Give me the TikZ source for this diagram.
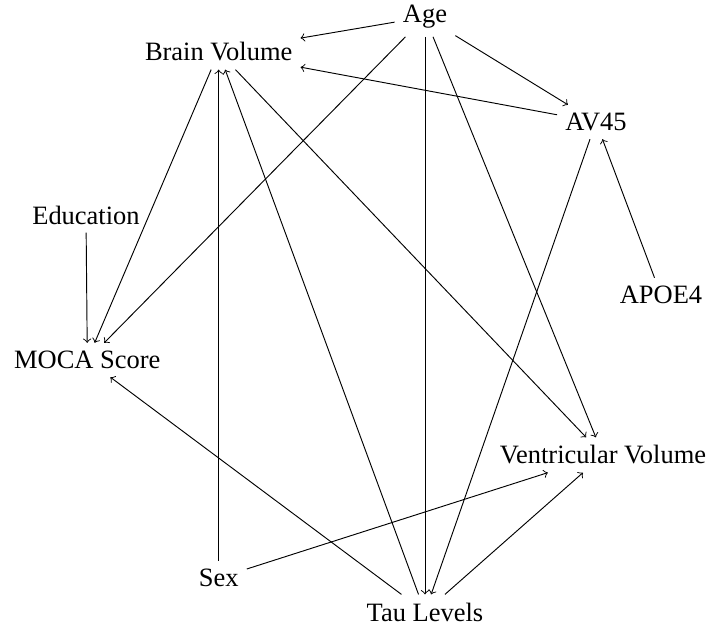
\documentclass[tikz,border=0pt]{standalone}
\usepackage{fontspec}
\setmainfont{Liberation Serif}
\usepackage{tikz}
\usetikzlibrary{arrows,shapes}
\usetikzlibrary{positioning}
\tikzstyle{varnode}=[anchor=center, text centered, font=\fontsize{11.3}{13}\selectfont]
\tikzstyle{myarrow}=[->, thin]

\begin{document}
\begin{tikzpicture}
		\useasboundingbox (0,0) rectangle (10.755,9.465) ;

		\node[varnode] (A) at (6.375,9.21) {Age} ;
		\node[varnode] (B) at (3.28,8.685) {Brain Volume} ;
		\node[varnode] (C) at (8.94,7.635) {AV45} ;
		\node[varnode] (D) at (1.29,6.24) {Education} ;
		\node[varnode] (E) at (9.915,5.04) {APOE4} ;
		\node[varnode] (F) at (1.31,4.065) {MOCA Score} ;
		\node[varnode] (G) at (9.045,2.64) {Ventricular Volume} ;
		\node[varnode] (H) at (3.28,0.795) {Sex} ;
		\node[varnode] (I) at (6.375,0.285) {Tau Levels} ;

		% age
		\draw[myarrow] (A) -- (B) ;
		\draw[myarrow] (A) -- (C) ;
		\draw[myarrow] (A) -- (F) ;
		\draw[myarrow] (A) -- (G) ;
		\draw[myarrow] (A) -- (I) ;

		% amyloid
		\draw[myarrow] (E) -- (C) ;
		\draw[myarrow] (C) -- (B) ;
		\draw[myarrow] (C) -- (I) ;

		% brain volume
		\draw[myarrow] (B) -- (F) ;
		\draw[myarrow] (B) -- (G) ;
		\draw[myarrow] (D) -- (F) ;

		% sex + tau
		\draw[myarrow] (H) -- (B) ;
		\draw[myarrow] (H) -- (G) ;
		\draw[myarrow] (I) -- (B) ;
		\draw[myarrow] (I) -- (F) ;
		\draw[myarrow] (I) -- (G) ;

	\end{tikzpicture}
\end{document}
